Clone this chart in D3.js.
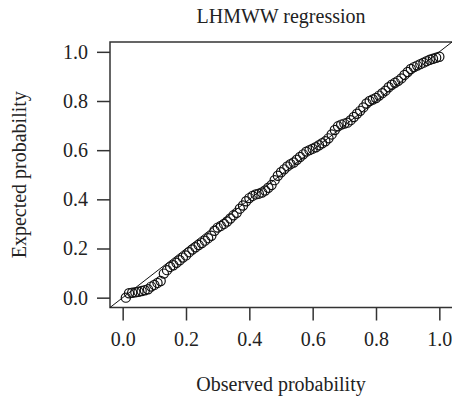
<!DOCTYPE html>
<html>
<head>
<meta charset="utf-8">
<script src="https://cdn.jsdelivr.net/npm/d3@7"></script>
<style>
  html, body { margin: 0; padding: 0; background: #fff; }
  svg text { font-family: "Liberation Serif", "Times New Roman", serif; fill: #222; }
</style>
</head>
<body>
<svg id="chart" width="452" height="400"></svg>
<script>
// P-P plot of the LHMWW regression residuals
const chartTitle = "LHMWW regression";
const xTitle = "Observed probability";
const yTitle = "Expected probability";
const tickValues = [0, 0.2, 0.4, 0.6, 0.8, 1.0];

// observed cumulative probabilities (i / n)
const observed = d3.range(1, 101).map(i => i / 100);

// expected cumulative probabilities under the fitted model
const expected = [
  0.000, 0.018, 0.020, 0.022, 0.024, 0.027, 0.030, 0.034, 0.045, 0.052,
  0.060, 0.068, 0.098, 0.112, 0.125, 0.132, 0.142, 0.152, 0.163, 0.172,
  0.185, 0.196, 0.205, 0.214, 0.222, 0.232, 0.242, 0.252, 0.272, 0.285,
  0.292, 0.300, 0.310, 0.322, 0.335, 0.345, 0.362, 0.375, 0.392, 0.405,
  0.414, 0.420, 0.423, 0.428, 0.436, 0.447, 0.458, 0.478, 0.496, 0.510,
  0.522, 0.534, 0.543, 0.550, 0.561, 0.572, 0.583, 0.594, 0.600, 0.606,
  0.612, 0.620, 0.628, 0.636, 0.648, 0.664, 0.682, 0.697, 0.704, 0.708,
  0.712, 0.722, 0.735, 0.748, 0.760, 0.774, 0.790, 0.800, 0.806, 0.812,
  0.822, 0.832, 0.842, 0.856, 0.866, 0.874, 0.882, 0.892, 0.906, 0.918,
  0.930, 0.938, 0.944, 0.950, 0.956, 0.962, 0.968, 0.972, 0.976, 0.980
];

const svg = d3.select("#chart");
const box = { left: 110, right: 452, top: 42, bottom: 307.5 };
const pad = 0.04; // axis range padding on each side

const x = d3.scaleLinear().domain([-pad, 1 + pad]).range([box.left, box.right]);
const y = d3.scaleLinear().domain([-pad, 1 + pad]).range([box.bottom, box.top]);

const axisColor = "#333";
const fontSize = 20;

// plot frame (left, top and bottom edges)
svg.append("path")
  .attr("d", `M${box.right},${box.top}H${box.left}V${box.bottom}H${box.right}`)
  .attr("fill", "none").attr("stroke", axisColor).attr("stroke-width", 1.5);

// y axis
const yAxis = svg.append("g")
  .attr("transform", `translate(${box.left},0)`)
  .call(d3.axisLeft(y).tickValues(tickValues).tickFormat(d3.format(".1f"))
    .tickSize(13).tickPadding(9));
yAxis.select(".domain").remove();
yAxis.selectAll("line").attr("stroke", axisColor).attr("stroke-width", 1.5);
yAxis.selectAll("text").attr("font-size", fontSize).attr("fill", "#222")
  .attr("font-family", "Liberation Serif");

// x axis
const xAxis = svg.append("g")
  .attr("transform", `translate(0,${box.bottom})`)
  .call(d3.axisBottom(x).tickValues(tickValues).tickFormat(d3.format(".1f"))
    .tickSize(13).tickPadding(11));
xAxis.select(".domain").remove();
xAxis.selectAll("line").attr("stroke", axisColor).attr("stroke-width", 1.5);
xAxis.selectAll("text").attr("font-size", fontSize).attr("fill", "#222")
  .attr("font-family", "Liberation Serif");

// reference line y = x across the plot region
svg.append("line")
  .attr("x1", x(-pad)).attr("y1", y(-pad))
  .attr("x2", x(1 + pad)).attr("y2", y(1 + pad))
  .attr("stroke", "#111").attr("stroke-width", 1);

// points
svg.append("g").selectAll("circle")
  .data(observed.map((o, i) => [o, expected[i]]))
  .join("circle")
  .attr("cx", d => x(d[0]))
  .attr("cy", d => y(d[1]))
  .attr("r", 4.6)
  .attr("fill", "none")
  .attr("stroke", "#111")
  .attr("stroke-width", 1.2);

// titles
svg.append("text")
  .attr("x", (box.left + box.right) / 2).attr("y", 23)
  .attr("text-anchor", "middle").attr("font-size", fontSize)
  .text(chartTitle);

svg.append("text")
  .attr("x", (box.left + box.right) / 2).attr("y", 391)
  .attr("text-anchor", "middle").attr("font-size", fontSize)
  .text(xTitle);

svg.append("text")
  .attr("transform", `translate(26,${(box.top + box.bottom) / 2}) rotate(-90)`)
  .attr("text-anchor", "middle").attr("font-size", fontSize)
  .text(yTitle);
</script>
</body>
</html>
